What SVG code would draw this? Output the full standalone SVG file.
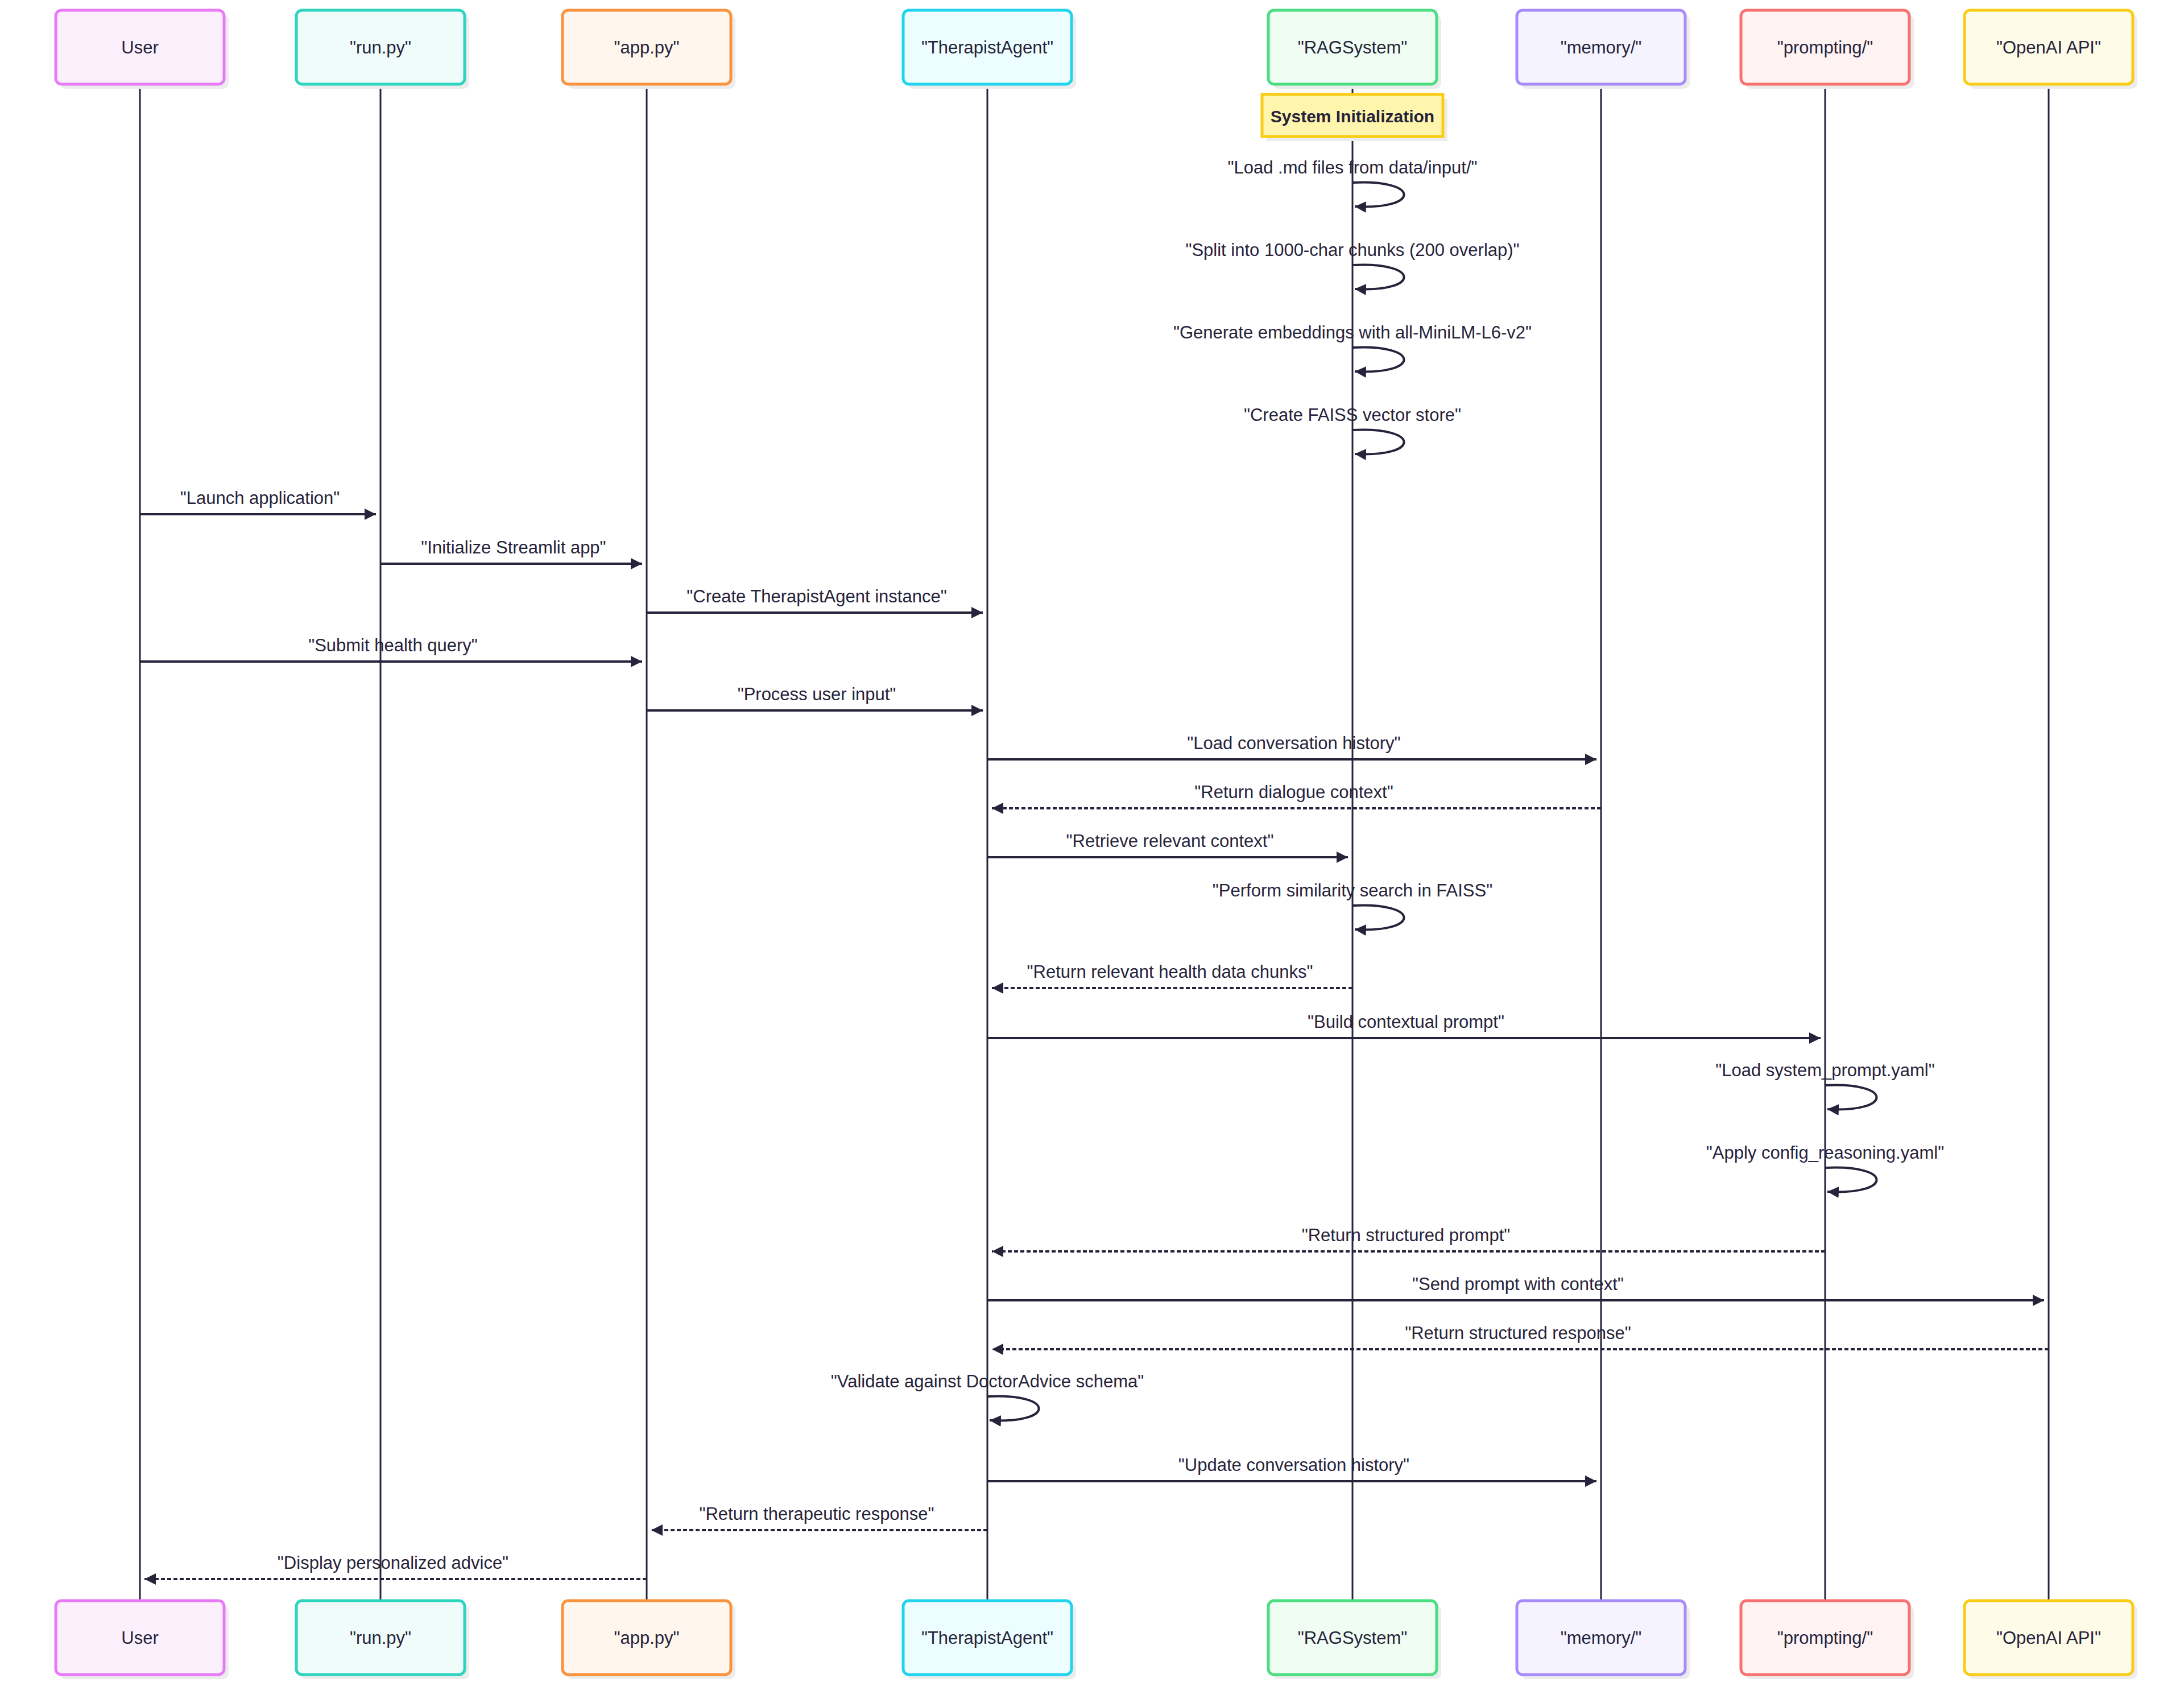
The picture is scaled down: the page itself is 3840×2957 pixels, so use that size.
<svg xmlns="http://www.w3.org/2000/svg" width="3840" height="2957" viewBox="0 0 3840 2957">
<style>
.bx{stroke-width:5}
.sh{fill:#ececec}
.t{font-family:"Liberation Sans",Arial,sans-serif;font-size:31px;fill:#26233a;text-anchor:middle;dominant-baseline:central}
.b{font-weight:bold;font-size:30px}
.life{stroke:#26233a;stroke-width:3}
.m{stroke:#26233a;stroke-width:4;fill:none;marker-end:url(#ah)}
.d{stroke-dasharray:7,4}
</style>
<defs>
<marker id="ah" markerUnits="userSpaceOnUse" markerWidth="22" markerHeight="22" refX="20" refY="10" orient="auto"><path d="M0,0 L20,10 L0,20 z" fill="#26233a"/></marker>
</defs>
<rect width="3840" height="2957" fill="#ffffff"/>
<g id="lifelines">
<line class="life" x1="246" y1="148" x2="246" y2="2814"/>
<line class="life" x1="669" y1="148" x2="669" y2="2814"/>
<line class="life" x1="1137" y1="148" x2="1137" y2="2814"/>
<line class="life" x1="1736" y1="148" x2="1736" y2="2814"/>
<line class="life" x1="2378" y1="148" x2="2378" y2="2814"/>
<line class="life" x1="2815" y1="148" x2="2815" y2="2814"/>
<line class="life" x1="3209" y1="148" x2="3209" y2="2814"/>
<line class="life" x1="3602" y1="148" x2="3602" y2="2814"/>
</g>
<g id="User">
<rect class="sh" x="106" y="26" width="296" height="130" rx="10"/><rect class="bx" x="98" y="18" width="296" height="130" rx="10" fill="#fdf0fd" stroke="#e879f9"/><text class="t" x="246" y="83">User</text>
<rect class="sh" x="106" y="2822" width="296" height="130" rx="10"/><rect class="bx" x="98" y="2814" width="296" height="130" rx="10" fill="#fdf0fd" stroke="#e879f9"/><text class="t" x="246" y="2879">User</text>
</g>
<g id="run">
<rect class="sh" x="529" y="26" width="296" height="130" rx="10"/><rect class="bx" x="521" y="18" width="296" height="130" rx="10" fill="#effcf9" stroke="#2dd4bf"/><text class="t" x="669" y="83">"run.py"</text>
<rect class="sh" x="529" y="2822" width="296" height="130" rx="10"/><rect class="bx" x="521" y="2814" width="296" height="130" rx="10" fill="#effcf9" stroke="#2dd4bf"/><text class="t" x="669" y="2879">"run.py"</text>
</g>
<g id="app">
<rect class="sh" x="997" y="26" width="296" height="130" rx="10"/><rect class="bx" x="989" y="18" width="296" height="130" rx="10" fill="#fff6ee" stroke="#fb923c"/><text class="t" x="1137" y="83">"app.py"</text>
<rect class="sh" x="997" y="2822" width="296" height="130" rx="10"/><rect class="bx" x="989" y="2814" width="296" height="130" rx="10" fill="#fff6ee" stroke="#fb923c"/><text class="t" x="1137" y="2879">"app.py"</text>
</g>
<g id="TherapistAgent">
<rect class="sh" x="1596" y="26" width="296" height="130" rx="10"/><rect class="bx" x="1588" y="18" width="296" height="130" rx="10" fill="#ecfeff" stroke="#22d3ee"/><text class="t" x="1736" y="83">"TherapistAgent"</text>
<rect class="sh" x="1596" y="2822" width="296" height="130" rx="10"/><rect class="bx" x="1588" y="2814" width="296" height="130" rx="10" fill="#ecfeff" stroke="#22d3ee"/><text class="t" x="1736" y="2879">"TherapistAgent"</text>
</g>
<g id="RAGSystem">
<rect class="sh" x="2238" y="26" width="296" height="130" rx="10"/><rect class="bx" x="2230" y="18" width="296" height="130" rx="10" fill="#effdf3" stroke="#4ade80"/><text class="t" x="2378" y="83">"RAGSystem"</text>
<rect class="sh" x="2238" y="2822" width="296" height="130" rx="10"/><rect class="bx" x="2230" y="2814" width="296" height="130" rx="10" fill="#effdf3" stroke="#4ade80"/><text class="t" x="2378" y="2879">"RAGSystem"</text>
</g>
<g id="memory">
<rect class="sh" x="2675" y="26" width="296" height="130" rx="10"/><rect class="bx" x="2667" y="18" width="296" height="130" rx="10" fill="#f4f3fe" stroke="#a78bfa"/><text class="t" x="2815" y="83">"memory/"</text>
<rect class="sh" x="2675" y="2822" width="296" height="130" rx="10"/><rect class="bx" x="2667" y="2814" width="296" height="130" rx="10" fill="#f4f3fe" stroke="#a78bfa"/><text class="t" x="2815" y="2879">"memory/"</text>
</g>
<g id="prompting">
<rect class="sh" x="3069" y="26" width="296" height="130" rx="10"/><rect class="bx" x="3061" y="18" width="296" height="130" rx="10" fill="#fef2f2" stroke="#f87171"/><text class="t" x="3209" y="83">"prompting/"</text>
<rect class="sh" x="3069" y="2822" width="296" height="130" rx="10"/><rect class="bx" x="3061" y="2814" width="296" height="130" rx="10" fill="#fef2f2" stroke="#f87171"/><text class="t" x="3209" y="2879">"prompting/"</text>
</g>
<g id="OpenAI">
<rect class="sh" x="3462" y="26" width="296" height="130" rx="10"/><rect class="bx" x="3454" y="18" width="296" height="130" rx="10" fill="#fefbe8" stroke="#facc15"/><text class="t" x="3602" y="83">"OpenAI API"</text>
<rect class="sh" x="3462" y="2822" width="296" height="130" rx="10"/><rect class="bx" x="3454" y="2814" width="296" height="130" rx="10" fill="#fefbe8" stroke="#facc15"/><text class="t" x="3602" y="2879">"OpenAI API"</text>
</g>
<g id="note">
<rect class="sh" x="2227" y="174" width="318" height="74"/>
<rect x="2219" y="166" width="318" height="74" fill="#fff5ad" stroke="#facc15" stroke-width="5"/>
<text class="t b" x="2378" y="204">System Initialization</text>
</g>
<g id="connectors">
<path class="m" d="M2378,321 C2498,315 2498,369 2382,363"/>
<path class="m" d="M2378,466 C2498,460 2498,514 2382,508"/>
<path class="m" d="M2378,611 C2498,605 2498,659 2382,653"/>
<path class="m" d="M2378,756 C2498,750 2498,804 2382,798"/>
<line class="m" x1="246" y1="904" x2="661" y2="904"/>
<line class="m" x1="669" y1="991" x2="1129" y2="991"/>
<line class="m" x1="1137" y1="1077" x2="1728" y2="1077"/>
<line class="m" x1="246" y1="1163" x2="1129" y2="1163"/>
<line class="m" x1="1137" y1="1249" x2="1728" y2="1249"/>
<line class="m" x1="1736" y1="1335" x2="2807" y2="1335"/>
<line class="m d" x1="2815" y1="1421" x2="1744" y2="1421"/>
<line class="m" x1="1736" y1="1507" x2="2370" y2="1507"/>
<path class="m" d="M2378,1592 C2498,1586 2498,1640 2382,1634"/>
<line class="m d" x1="2378" y1="1737" x2="1744" y2="1737"/>
<line class="m" x1="1736" y1="1825" x2="3201" y2="1825"/>
<path class="m" d="M3209,1908 C3329,1902 3329,1956 3213,1950"/>
<path class="m" d="M3209,2053 C3329,2047 3329,2101 3213,2095"/>
<line class="m d" x1="3209" y1="2200" x2="1744" y2="2200"/>
<line class="m" x1="1736" y1="2286" x2="3594" y2="2286"/>
<line class="m d" x1="3602" y1="2372" x2="1744" y2="2372"/>
<path class="m" d="M1736,2455 C1856,2449 1856,2503 1740,2497"/>
<line class="m" x1="1736" y1="2604" x2="2807" y2="2604"/>
<line class="m d" x1="1736" y1="2690" x2="1145" y2="2690"/>
<line class="m d" x1="1137" y1="2776" x2="254" y2="2776"/>
</g>
<g id="labels">
<text class="t" x="2378" y="294">"Load .md files from data/input/"</text>
<text class="t" x="2378" y="439">"Split into 1000-char chunks (200 overlap)"</text>
<text class="t" x="2378" y="584">"Generate embeddings with all-MiniLM-L6-v2"</text>
<text class="t" x="2378" y="729">"Create FAISS vector store"</text>
<text class="t" x="457" y="875">"Launch application"</text>
<text class="t" x="903" y="962">"Initialize Streamlit app"</text>
<text class="t" x="1436" y="1048">"Create TherapistAgent instance"</text>
<text class="t" x="691" y="1134">"Submit health query"</text>
<text class="t" x="1436" y="1220">"Process user input"</text>
<text class="t" x="2275" y="1306">"Load conversation history"</text>
<text class="t" x="2275" y="1392">"Return dialogue context"</text>
<text class="t" x="2057" y="1478">"Retrieve relevant context"</text>
<text class="t" x="2378" y="1565">"Perform similarity search in FAISS"</text>
<text class="t" x="2057" y="1708">"Return relevant health data chunks"</text>
<text class="t" x="2472" y="1796">"Build contextual prompt"</text>
<text class="t" x="3209" y="1881">"Load system_prompt.yaml"</text>
<text class="t" x="3209" y="2026">"Apply config_reasoning.yaml"</text>
<text class="t" x="2472" y="2171">"Return structured prompt"</text>
<text class="t" x="2669" y="2257">"Send prompt with context"</text>
<text class="t" x="2669" y="2343">"Return structured response"</text>
<text class="t" x="1736" y="2428">"Validate against DoctorAdvice schema"</text>
<text class="t" x="2275" y="2575">"Update conversation history"</text>
<text class="t" x="1436" y="2661">"Return therapeutic response"</text>
<text class="t" x="691" y="2747">"Display personalized advice"</text>
</g>
</svg>
